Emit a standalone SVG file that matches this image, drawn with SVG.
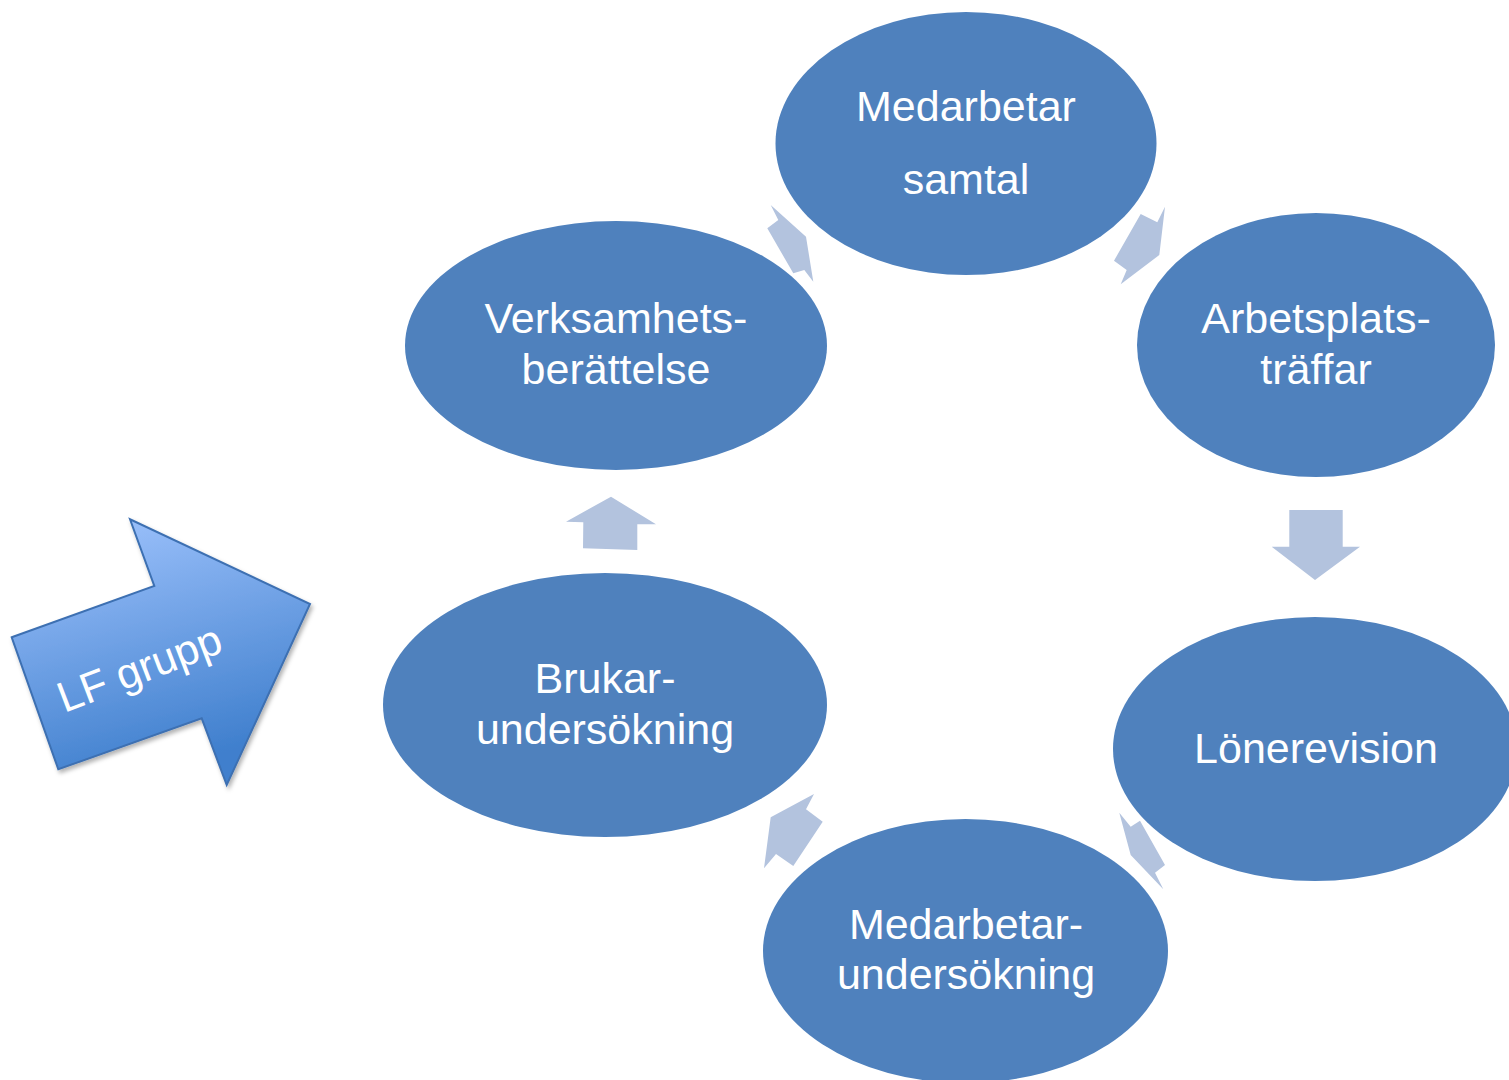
<svg xmlns="http://www.w3.org/2000/svg" width="1509" height="1080" viewBox="0 0 1509 1080">
<defs>
<style>
.node{fill:#4f81bd;}
.lbl{font-family:"Liberation Sans","Open Sans",sans-serif;font-size:43px;fill:#ffffff;text-anchor:middle;}
.arr{fill:#b3c3de;}
</style>
<linearGradient id="lfg" x1="0" y1="0" x2="0.3" y2="1">
<stop offset="0" stop-color="#a3c6ff"/>
<stop offset="1" stop-color="#3f7fcd"/>
</linearGradient>
<filter id="sh" x="-10%" y="-10%" width="130%" height="130%">
<feDropShadow dx="2" dy="3" stdDeviation="2" flood-color="#000" flood-opacity="0.3"/>
</filter>
</defs>
<rect width="1509" height="1080" fill="#ffffff"/>
<g id="connectors">
<polygon class="arr" points="770.7,205 778.3,220 767.3,228.3 793.3,273.3 804.3,270 813.3,281.7 806,236.7"/>
<polygon class="arr" points="1165,206.7 1157.3,222.3 1140.7,214 1114,260.7 1126.7,270 1120.7,284.3 1159.3,255"/>
<polygon class="arr" points="1289.3,510 1342.7,510 1342.7,546.7 1360,546.7 1315,580 1271.7,546.7 1289.3,546.7"/>
<polygon class="arr" points="1119.3,812.7 1130.7,826.7 1140,820.7 1165,865 1155,872.7 1163.3,889.3 1130.7,855"/>
<polygon class="arr" points="814,794 806,809.3 822.7,821.7 793.3,866 776,854 764,868.3 770.7,817.3"/>
<polygon class="arr" points="611,496.7 656,524.3 637.3,524.3 637.3,550 583,548.3 583.3,522.3 566,521.7"/>
</g>
<g id="lfgrupp">
<polygon points="11.7,637.3 154.3,586 130,519.3 310,604 226.7,785 201.7,718.3 58.3,769.3" fill="url(#lfg)" stroke="#3d70b2" stroke-width="2" filter="url(#sh)"/>
<text class="lbl" x="140" y="683" font-size="40" transform="rotate(-21 140 670)">LF grupp</text>
</g>
<g id="n-medarbetarsamtal">
<ellipse class="node" cx="966" cy="143.5" rx="190.5" ry="131.5"/>
<text class="lbl" x="966" y="121">Medarbetar</text>
<text class="lbl" x="966" y="194">samtal</text>
</g>
<g id="n-arbetsplats">
<ellipse class="node" cx="1316" cy="345" rx="179" ry="132"/>
<text class="lbl" x="1316" y="333">Arbetsplats-</text>
<text class="lbl" x="1316" y="384">träffar</text>
</g>
<g id="n-lonerevision">
<ellipse class="node" cx="1315" cy="749" rx="202" ry="132"/>
<text class="lbl" x="1316" y="763">Lönerevision</text>
</g>
<g id="n-medarbetarundersokning">
<ellipse class="node" cx="965.5" cy="951" rx="202.5" ry="132"/>
<text class="lbl" x="966" y="939">Medarbetar-</text>
<text class="lbl" x="966" y="989">undersökning</text>
</g>
<g id="n-brukar">
<ellipse class="node" cx="605" cy="705" rx="222" ry="132"/>
<text class="lbl" x="605" y="693">Brukar-</text>
<text class="lbl" x="605" y="744">undersökning</text>
</g>
<g id="n-verksamhet">
<ellipse class="node" cx="616" cy="345.5" rx="211" ry="124.5"/>
<text class="lbl" x="616" y="333">Verksamhets-</text>
<text class="lbl" x="616" y="384">berättelse</text>
</g>
</svg>
